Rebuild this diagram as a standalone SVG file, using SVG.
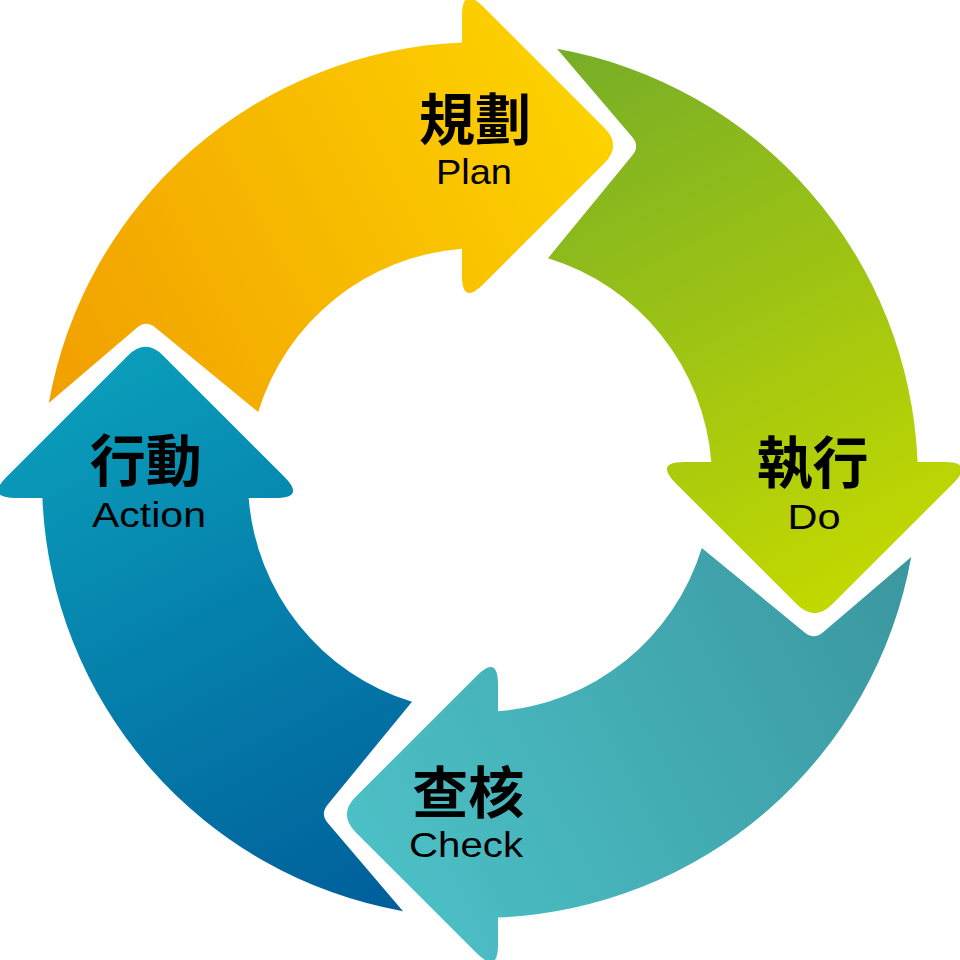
<svg xmlns="http://www.w3.org/2000/svg" width="960" height="960" viewBox="0 0 960 960">
<defs>
<linearGradient id="gPlan" gradientUnits="userSpaceOnUse" x1="60" y1="400" x2="600" y2="120"><stop offset="0" stop-color="#F1A000"/><stop offset="1" stop-color="#FDD200"/></linearGradient>
<linearGradient id="gDo" gradientUnits="userSpaceOnUse" x1="60" y1="400" x2="600" y2="120"><stop offset="0" stop-color="#78AE27"/><stop offset="1" stop-color="#C2D800"/></linearGradient>
<linearGradient id="gCheck" gradientUnits="userSpaceOnUse" x1="60" y1="400" x2="600" y2="120"><stop offset="0" stop-color="#3B97A0"/><stop offset="1" stop-color="#4CC0C6"/></linearGradient>
<linearGradient id="gAction" gradientUnits="userSpaceOnUse" x1="60" y1="400" x2="600" y2="120"><stop offset="0" stop-color="#005F9B"/><stop offset="1" stop-color="#0A9DBA"/></linearGradient>
<path id="arrow" d="M 48.8 403 A 438 438 0 0 1 462 42.4 L 462 15.5 Q 462 -14.5 483.2 6.7 L 604.3 127.8 Q 622 145.5 604.3 163.2 L 483.2 284.3 Q 462 305.5 462 275.5 L 462 248.7 A 232 232 0 0 0 258.2 412 L 155.3 327.6 Q 146 320 136.9 327.8 Z"/>
</defs>
<style>
.zh{font-family:"Noto Sans CJK TC","Noto Sans CJK SC",sans-serif;font-weight:700;font-size:56px;fill:#000;text-anchor:middle}
.en{font-family:"Liberation Sans",Arial,sans-serif;font-size:35px;fill:#000;text-anchor:middle}
</style>
<rect width="960" height="960" fill="#fff"/>
<g id="plan">
<use href="#arrow" fill="url(#gPlan)"/>
<text class="zh" x="475" y="140">規劃</text>
<text class="en" x="474" y="183.5" textLength="76" lengthAdjust="spacingAndGlyphs">Plan</text>
</g>
<g id="do">
<use href="#arrow" fill="url(#gDo)" transform="rotate(90 480 480)"/>
<text class="zh" x="812.5" y="483">執行</text>
<text class="en" x="814" y="528.5" textLength="53" lengthAdjust="spacingAndGlyphs">Do</text>
</g>
<g id="check">
<use href="#arrow" fill="url(#gCheck)" transform="rotate(180 480 480)"/>
<text class="zh" x="468.3" y="813">查核</text>
<text class="en" x="466" y="856.5" textLength="114" lengthAdjust="spacingAndGlyphs">Check</text>
</g>
<g id="action">
<use href="#arrow" fill="url(#gAction)" transform="rotate(270 480 480)"/>
<text class="zh" x="145.8" y="481">行動</text>
<text class="en" x="149" y="526.5" textLength="114" lengthAdjust="spacingAndGlyphs">Action</text>
</g>
<g id="connectors"/>
</svg>
